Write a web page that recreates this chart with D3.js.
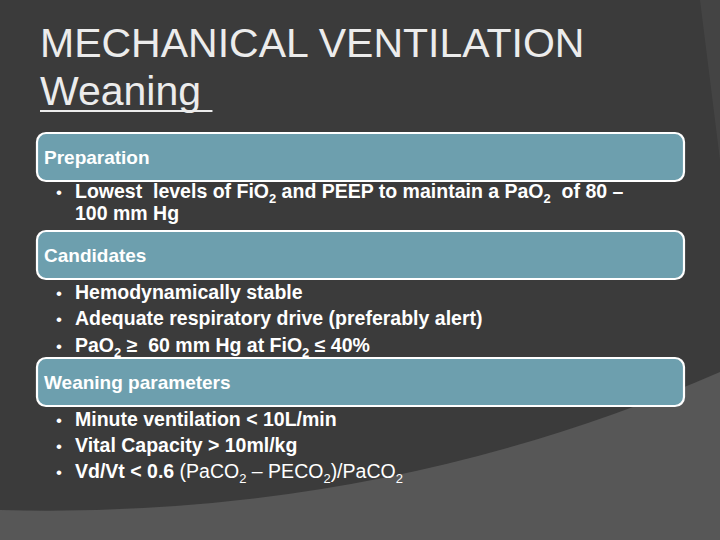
<!DOCTYPE html>
<html><head><meta charset="utf-8">
<script src="https://cdn.jsdelivr.net/npm/d3@7"></script>
<style>body{margin:0;background:#3a3a3a}svg{display:block}text{white-space:pre}</style>
</head><body>
<script>
// slide text: "_2" = subscript 2, "~" toggles regular weight
const titleLines = ["MECHANICAL VENTILATION", "Weaning "];
const headers = ["Preparation", "Candidates", "Weaning parameters"];
const headerY = [133, 231, 358];
const bullets = [
  ["Lowest  levels of FiO_2 and PEEP to maintain a PaO_2  of 80 –", "100 mm Hg"],
  ["Hemodynamically stable", "Adequate respiratory drive (preferably alert)", "PaO_2 ≥  60 mm Hg at FiO_2 ≤ 40%"],
  ["Minute ventilation < 10L/min", "Vital Capacity > 10ml/kg", "Vd/Vt < 0.6 ~(PaCO_2 – PECO_2)/PaCO_2"]
];
const bulletY = [[198, 220], [299, 325, 352], [426, 452, 478]];

const W = 720, H = 540;
const svg = d3.select("body").append("svg").attr("width", W).attr("height", H)
  .style("font-family", "'Liberation Sans', Arial, sans-serif");

svg.append("rect").attr("width", W).attr("height", H).attr("fill", "#3b3b3b");
svg.append("path").attr("d", "M0,540 L0,510 Q380,520 720,372 L720,540 Z").attr("fill", "#575757");
svg.append("path").attr("d", "M700,0 L720,0 L720,160 Z").attr("fill", "#444");

svg.append("text").attr("x", 40).attr("y", 57).attr("fill", "#ececec").attr("font-size", 41).text(titleLines[0]);
const t2 = svg.append("text").attr("x", 40).attr("y", 105).attr("fill", "#ececec").attr("font-size", 41).text(titleLines[1]);
const bb = t2.node().getBBox();
svg.append("line").attr("x1", 40).attr("x2", bb.x + bb.width).attr("y1", 111).attr("y2", 111)
  .attr("stroke", "#ececec").attr("stroke-width", 2);

const g = svg.selectAll("g.sec").data(headers).join("g").attr("class", "sec");
g.append("rect").attr("x", 37).attr("y", (d, i) => headerY[i]).attr("width", 647).attr("height", 48)
  .attr("rx", 9).attr("fill", "#6d9fae").attr("stroke", "#fff").attr("stroke-width", 2.2);
g.append("text").attr("x", 44).attr("y", (d, i) => headerY[i] + 31).attr("fill", "#fff")
  .attr("font-size", 19).attr("font-weight", "bold").text(d => d);

function addRich(text, str) {
  let bold = true, shift = 0;
  str.split(/(_2|~)/).forEach(p => {
    if (p === "~") { bold = !bold; return; }
    if (!p) return;
    const sub = p === "_2";
    text.append("tspan").attr("font-weight", bold ? "bold" : "normal")
      .attr("font-size", sub ? 13 : null)
      .attr("dy", sub ? 5 - shift : -shift || null)
      .text(sub ? "2" : p);
    shift = sub ? 5 : 0;
  });
}

bullets.forEach((list, si) => {
  list.forEach((line, li) => {
    const y = bulletY[si][li];
    const cont = si === 0 && li === 1;
    if (!cont) svg.append("text").attr("x", 56).attr("y", y).attr("fill", "#fff").attr("font-size", 17).text("•");
    const t = svg.append("text").attr("x", 75).attr("y", y).attr("fill", "#fff").attr("font-size", 19.5);
    addRich(t, line);
  });
});
</script>
</body></html>
